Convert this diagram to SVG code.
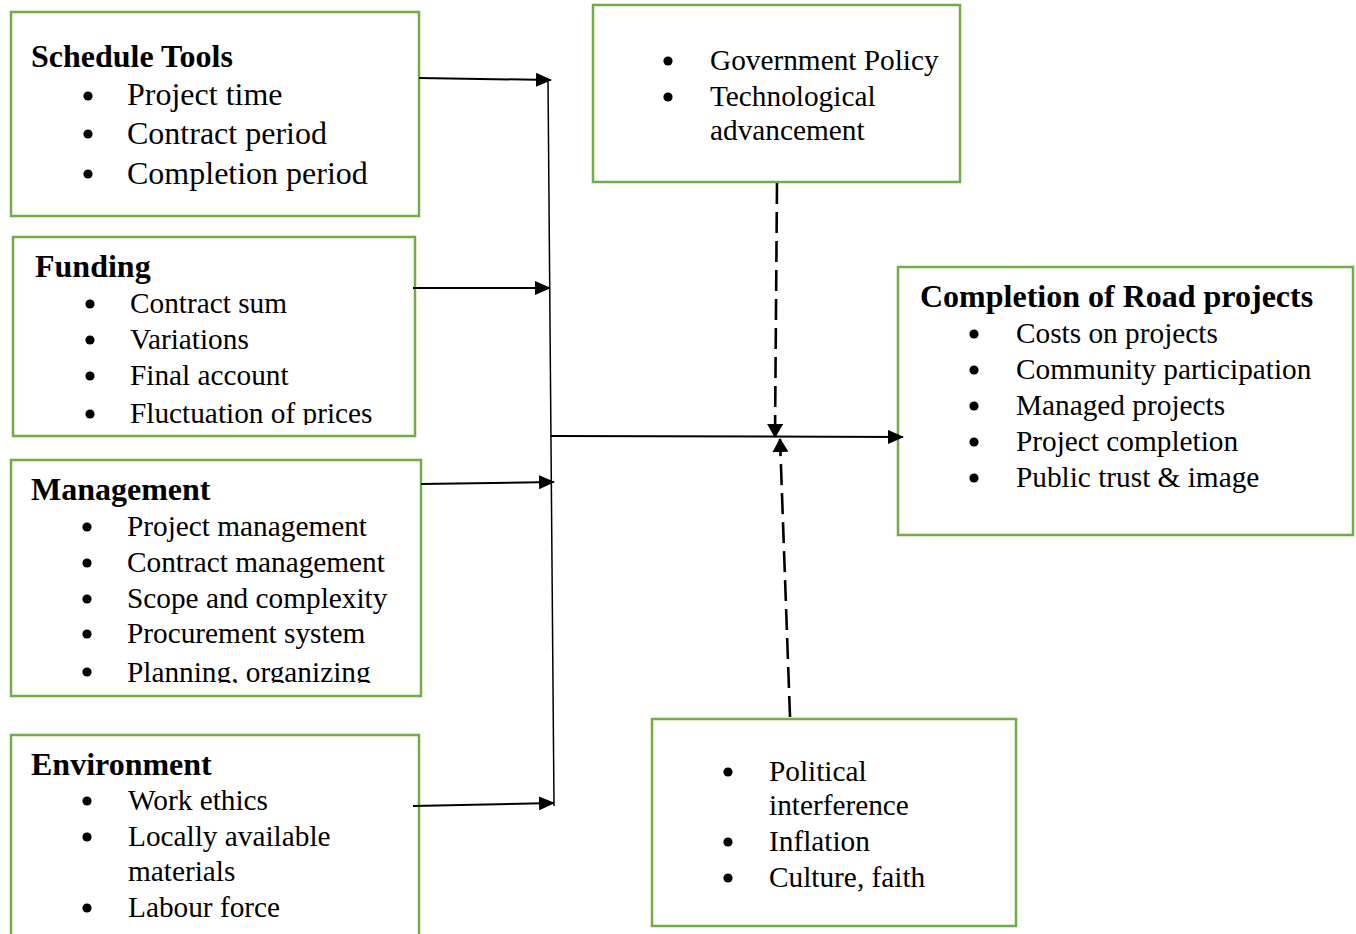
<svg xmlns="http://www.w3.org/2000/svg" width="1356" height="934" viewBox="0 0 1356 934">
<style>
.box{fill:#fff;stroke:#70AD47;stroke-width:2.5}
.t{font-family:"Liberation Serif","Times New Roman",serif;font-size:29.3px;fill:#000}
.big{font-size:32px}
.h{font-family:"Liberation Serif","Times New Roman",serif;font-size:32px;font-weight:bold;fill:#000}
.b{fill:#000}
.ln{stroke:#000;stroke-width:2;fill:none}
.dash{stroke:#000;stroke-width:2.6;fill:none;stroke-dasharray:21 8}
</style>
<defs>
<marker id="ah" markerWidth="16" markerHeight="14" refX="15" refY="7" orient="auto" markerUnits="userSpaceOnUse">
<path d="M0,0 L16,7 L0,14 Z" fill="#000"/>
</marker>
<marker id="ahd" markerWidth="14" markerHeight="16" refX="13" refY="8" orient="auto" markerUnits="userSpaceOnUse">
<path d="M0,0 L14,8 L0,16 Z" fill="#000"/>
</marker>
<clipPath id="cf"><rect x="0" y="230" width="430" height="195"/></clipPath>
<clipPath id="cm"><rect x="0" y="455" width="430" height="228"/></clipPath>
</defs>
<rect width="1356" height="934" fill="#fff"/>

<g id="schedule">
<rect class="box" x="11" y="12" width="408" height="204"/>
<text class="h" x="31" y="67">Schedule Tools</text>
<circle class="b" cx="88" cy="96" r="4.6"/><text class="t big" x="127" y="105">Project time</text>
<circle class="b" cx="88" cy="134" r="4.6"/><text class="t big" x="127" y="144">Contract period</text>
<circle class="b" cx="88" cy="174" r="4.6"/><text class="t big" x="127" y="184">Completion period</text>
</g>

<g id="funding">
<rect class="box" x="13" y="237" width="402" height="199"/>
<text class="h" x="35" y="277">Funding</text>
<g clip-path="url(#cf)">
<circle class="b" cx="90" cy="304" r="4.6"/><text class="t" x="130" y="313">Contract sum</text>
<circle class="b" cx="90" cy="340" r="4.6"/><text class="t" x="130" y="349">Variations</text>
<circle class="b" cx="90" cy="376" r="4.6"/><text class="t" x="130" y="385">Final account</text>
<circle class="b" cx="90" cy="414" r="4.6"/><text class="t" x="130" y="423">Fluctuation of prices</text>
</g>
</g>

<g id="management">
<rect class="box" x="11" y="460" width="410" height="236"/>
<text class="h" x="31" y="500">Management</text>
<g clip-path="url(#cm)">
<circle class="b" cx="87" cy="527" r="4.6"/><text class="t" x="127" y="536">Project management</text>
<circle class="b" cx="87" cy="563" r="4.6"/><text class="t" x="127" y="572">Contract management</text>
<circle class="b" cx="87" cy="599" r="4.6"/><text class="t" x="127" y="608">Scope and complexity</text>
<circle class="b" cx="87" cy="634" r="4.6"/><text class="t" x="127" y="643">Procurement system</text>
<circle class="b" cx="87" cy="672" r="4.6"/><text class="t" x="127" y="682">Planning, organizing</text>
</g>
</g>

<g id="environment">
<rect class="box" x="11" y="735" width="408" height="220"/>
<text class="h" x="31" y="775">Environment</text>
<circle class="b" cx="87" cy="801" r="4.6"/><text class="t" x="128" y="810">Work ethics</text>
<circle class="b" cx="87" cy="837" r="4.6"/><text class="t" x="128" y="846">Locally available</text>
<text class="t" x="128" y="881">materials</text>
<circle class="b" cx="87" cy="908" r="4.6"/><text class="t" x="128" y="917">Labour force</text>
</g>

<g id="government">
<rect class="box" x="593" y="5" width="367" height="177"/>
<circle class="b" cx="668" cy="61" r="4.6"/><text class="t" x="710" y="70">Government Policy</text>
<circle class="b" cx="668" cy="97" r="4.6"/><text class="t" x="710" y="106">Technological</text>
<text class="t" x="710" y="140">advancement</text>
</g>

<g id="completion">
<rect class="box" x="898" y="267" width="455" height="268"/>
<text class="h" x="920" y="307">Completion of Road projects</text>
<circle class="b" cx="974" cy="334" r="4.6"/><text class="t" x="1016" y="343">Costs on projects</text>
<circle class="b" cx="974" cy="370" r="4.6"/><text class="t" x="1016" y="379">Community participation</text>
<circle class="b" cx="974" cy="406" r="4.6"/><text class="t" x="1016" y="415">Managed projects</text>
<circle class="b" cx="974" cy="442" r="4.6"/><text class="t" x="1016" y="451">Project completion</text>
<circle class="b" cx="974" cy="478" r="4.6"/><text class="t" x="1016" y="487">Public trust &amp; image</text>
</g>

<g id="political">
<rect class="box" x="652" y="719" width="364" height="207"/>
<circle class="b" cx="728" cy="772" r="4.6"/><text class="t" x="769" y="781">Political</text>
<text class="t" x="769" y="815">interference</text>
<circle class="b" cx="728" cy="842" r="4.6"/><text class="t" x="769" y="851">Inflation</text>
<circle class="b" cx="728" cy="878" r="4.6"/><text class="t" x="769" y="887">Culture, faith</text>
</g>

<g id="connectors">
<line class="ln" x1="548" y1="80" x2="554" y2="806" style="stroke-width:1.5"/>
<line class="ln" x1="419" y1="78" x2="551" y2="80" marker-end="url(#ah)"/>
<line class="ln" x1="413" y1="288" x2="550" y2="288" marker-end="url(#ah)"/>
<line class="ln" x1="421" y1="484" x2="554" y2="482" marker-end="url(#ah)"/>
<line class="ln" x1="413" y1="806" x2="554" y2="803" marker-end="url(#ah)"/>
<line class="ln" x1="551" y1="436" x2="903" y2="437" marker-end="url(#ah)"/>
<line class="dash" x1="777" y1="183" x2="775" y2="437" marker-end="url(#ahd)"/>
<line class="dash" x1="790" y1="717" x2="780" y2="439" marker-end="url(#ahd)"/>
</g>
</svg>
